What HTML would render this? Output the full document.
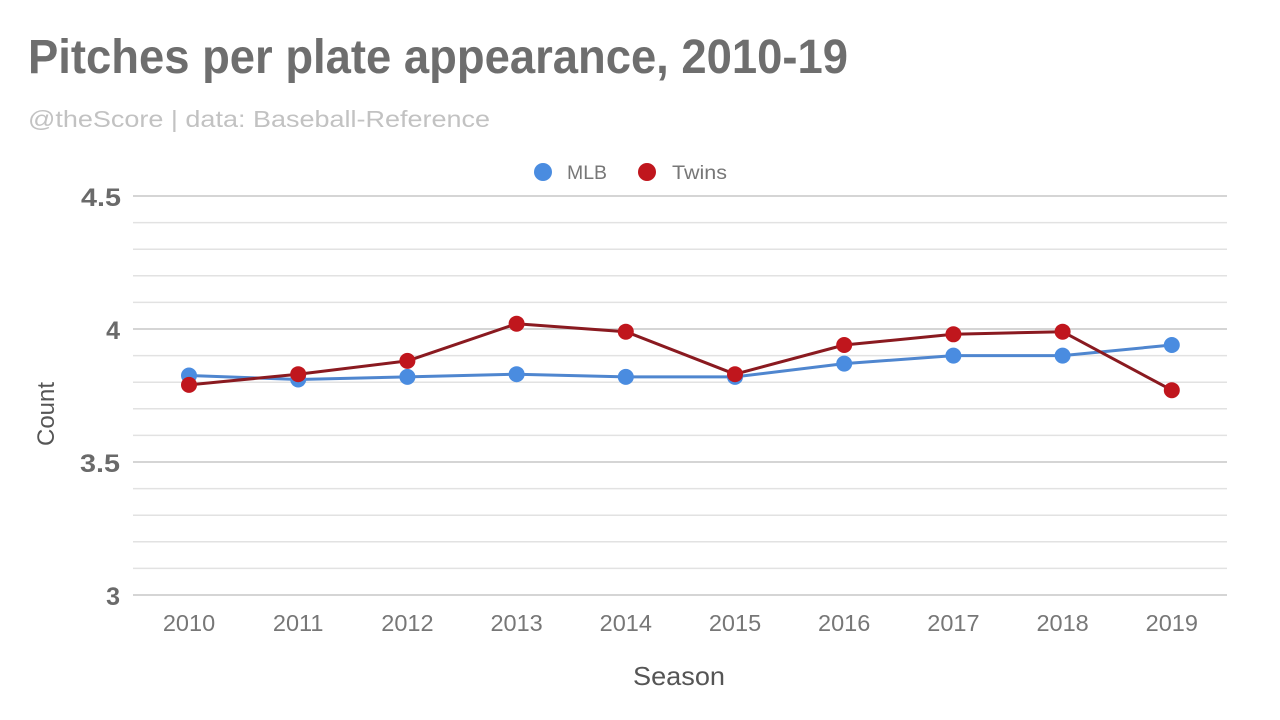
<!DOCTYPE html>
<html>
<head>
<meta charset="utf-8">
<style>
  html,body{margin:0;padding:0;background:#fff;}
  svg{display:block;}
  text{font-family:"Liberation Sans", Arial, sans-serif;}
</style>
</head>
<body>
<svg width="1280" height="720" viewBox="0 0 1280 720" xmlns="http://www.w3.org/2000/svg">
  <rect width="1280" height="720" fill="#fff"/>
  <!-- Title -->
  <text x="28" y="73" font-size="48" font-weight="bold" fill="#6e6e6e" textLength="820" lengthAdjust="spacingAndGlyphs">Pitches per plate appearance, 2010-19</text>
  <text x="28" y="127" font-size="23" fill="#c2c2c2" textLength="462" lengthAdjust="spacingAndGlyphs">@theScore | data: Baseball-Reference</text>

  <!-- Legend -->
  <circle cx="543" cy="172" r="9" fill="#4a8ce0"/>
  <text x="567" y="179" font-size="19" fill="#777" textLength="40" lengthAdjust="spacingAndGlyphs">MLB</text>
  <circle cx="647" cy="172" r="9" fill="#c0161d"/>
  <text x="672" y="179" font-size="19" fill="#777" textLength="55" lengthAdjust="spacingAndGlyphs">Twins</text>

  <!-- Gridlines -->
  <g stroke="#e2e2e2" stroke-width="1.5">
    <line x1="133" x2="1227" y1="222.6" y2="222.6"/>
    <line x1="133" x2="1227" y1="249.2" y2="249.2"/>
    <line x1="133" x2="1227" y1="275.8" y2="275.8"/>
    <line x1="133" x2="1227" y1="302.4" y2="302.4"/>
    <line x1="133" x2="1227" y1="355.6" y2="355.6"/>
    <line x1="133" x2="1227" y1="382.2" y2="382.2"/>
    <line x1="133" x2="1227" y1="408.8" y2="408.8"/>
    <line x1="133" x2="1227" y1="435.4" y2="435.4"/>
    <line x1="133" x2="1227" y1="488.6" y2="488.6"/>
    <line x1="133" x2="1227" y1="515.2" y2="515.2"/>
    <line x1="133" x2="1227" y1="541.8" y2="541.8"/>
    <line x1="133" x2="1227" y1="568.4" y2="568.4"/>
  </g>
  <g stroke="#cfcfcf" stroke-width="1.8">
    <line x1="133" x2="1227" y1="196" y2="196"/>
    <line x1="133" x2="1227" y1="329" y2="329"/>
    <line x1="133" x2="1227" y1="462" y2="462"/>
    <line x1="133" x2="1227" y1="595" y2="595"/>
  </g>

  <!-- Y tick labels -->
  <g font-size="25" font-weight="bold" fill="#6a6a6a" text-anchor="end">
    <text x="121" y="206" textLength="40" lengthAdjust="spacingAndGlyphs">4.5</text>
    <text x="120" y="339">4</text>
    <text x="120" y="472" textLength="40" lengthAdjust="spacingAndGlyphs">3.5</text>
    <text x="120" y="605">3</text>
  </g>

  <!-- X tick labels -->
  <g font-size="23.5" fill="#777" text-anchor="middle">
    <text x="189" y="631">2010</text>
    <text x="298.2" y="631">2011</text>
    <text x="407.4" y="631">2012</text>
    <text x="516.6" y="631">2013</text>
    <text x="625.8" y="631">2014</text>
    <text x="735" y="631">2015</text>
    <text x="844.2" y="631">2016</text>
    <text x="953.4" y="631">2017</text>
    <text x="1062.6" y="631">2018</text>
    <text x="1171.8" y="631">2019</text>
  </g>

  <!-- Axis titles -->
  <text x="633" y="685" font-size="26" fill="#555" textLength="92" lengthAdjust="spacingAndGlyphs">Season</text>
  <text transform="translate(54,414) rotate(-90)" font-size="24" fill="#555" text-anchor="middle">Count</text>

  <!-- MLB series -->
  <polyline fill="none" stroke="#4f86cf" stroke-width="3" stroke-linejoin="round"
    points="189,375.5 298.2,379.5 407.4,376.9 516.6,374.2 625.8,376.9 735,376.9 844.2,363.6 953.4,355.6 1062.6,355.6 1171.8,345"/>
  <g fill="#4a8ce0">
    <circle cx="189" cy="375.5" r="8"/>
    <circle cx="298.2" cy="379.5" r="8"/>
    <circle cx="407.4" cy="376.9" r="8"/>
    <circle cx="516.6" cy="374.2" r="8"/>
    <circle cx="625.8" cy="376.9" r="8"/>
    <circle cx="735" cy="376.9" r="8"/>
    <circle cx="844.2" cy="363.6" r="8"/>
    <circle cx="953.4" cy="355.6" r="8"/>
    <circle cx="1062.6" cy="355.6" r="8"/>
    <circle cx="1171.8" cy="345" r="8"/>
  </g>

  <!-- Twins series -->
  <polyline fill="none" stroke="#8a1a20" stroke-width="3" stroke-linejoin="round"
    points="189,384.9 298.2,374.2 407.4,360.9 516.6,323.7 625.8,331.7 735,374.2 844.2,345 953.4,334.3 1062.6,331.7 1171.8,390.2"/>
  <g fill="#c0161d">
    <circle cx="189" cy="384.9" r="8"/>
    <circle cx="298.2" cy="374.2" r="8"/>
    <circle cx="407.4" cy="360.9" r="8"/>
    <circle cx="516.6" cy="323.7" r="8"/>
    <circle cx="625.8" cy="331.7" r="8"/>
    <circle cx="735" cy="374.2" r="8"/>
    <circle cx="844.2" cy="345" r="8"/>
    <circle cx="953.4" cy="334.3" r="8"/>
    <circle cx="1062.6" cy="331.7" r="8"/>
    <circle cx="1171.8" cy="390.2" r="8"/>
  </g>
</svg>
</body>
</html>
